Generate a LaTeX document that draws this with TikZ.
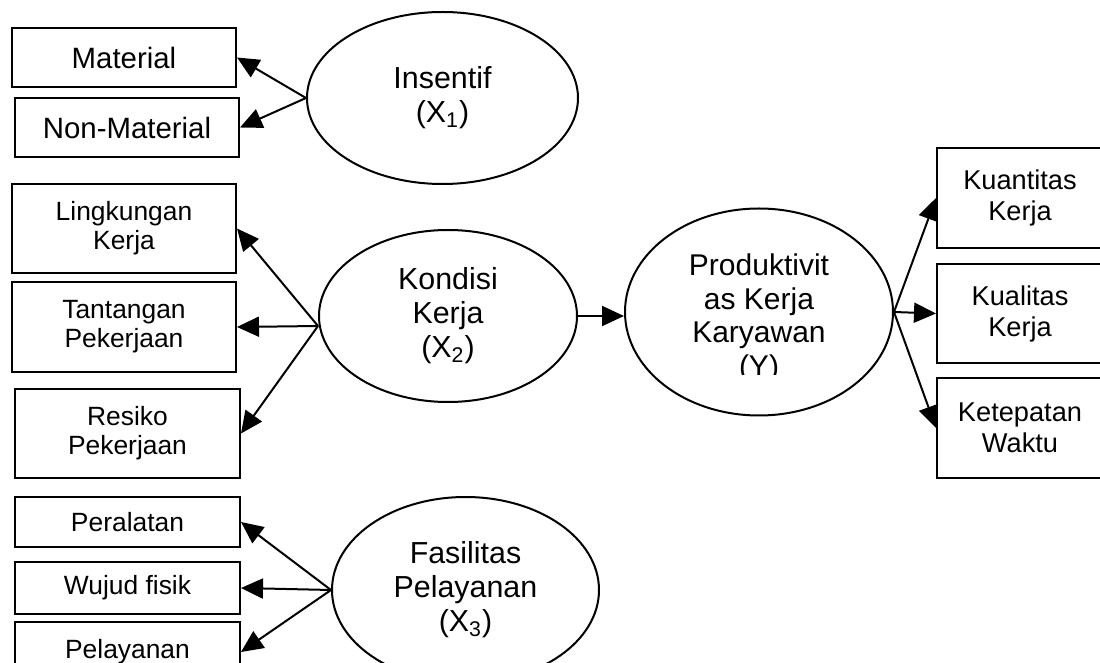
\documentclass[tikz,border=0pt]{standalone}
\usepackage{fontspec}
\setmainfont{Liberation Sans}
\usetikzlibrary{shapes.geometric,arrows.meta}

\begin{document}
\begin{tikzpicture}[x=0.5pt,y=-0.5pt,
    indikator/.style={draw,line width=1pt,rectangle,inner sep=0pt,align=center,
        font=\fontsize{13.2pt}{14.5pt}\selectfont},
    variabel/.style={draw,line width=1pt,ellipse,inner sep=0pt,align=center,
        font=\fontsize{15.2pt}{17pt}\selectfont},
    panah/.style={line width=1pt,-{Triangle[length=11pt,width=10pt]}}]

    \clip (0,0) rectangle (1100,663);

    % variabel laten
    \node[variabel,minimum width=135.5pt,minimum height=86pt] (insentif) at (442.5,98) {Insentif\\(X\textsubscript{1})};
    \node[variabel,minimum width=129pt,minimum height=86pt] (kondisi) at (448,316) {Kondisi\\Kerja\\(X\textsubscript{2})};
    \node[variabel,minimum width=133.5pt,minimum height=93pt] (fasilitas) at (465.5,590) {Fasilitas\\Pelayanan\\(X\textsubscript{3})};
    \node[variabel,minimum width=134pt,minimum height=103.5pt] (produktivitas) at (759,312) {};
    \begin{scope}
        \clip (625,200) rectangle (893,375);
        \node[align=center,font=\fontsize{15pt}{16.75pt}\selectfont] (produktivitasteks) at (759,318) {Produktivit\\as Kerja\\Karyawan\\(Y)};
    \end{scope}

    % indikator X1
    \node[indikator,minimum width=112pt,minimum height=29.5pt,font=\fontsize{14.7pt}{16pt}\selectfont] (material) at (124,57.5) {Material};
    \node[indikator,minimum width=112pt,minimum height=29.5pt,font=\fontsize{14.7pt}{16pt}\selectfont] (nonmaterial) at (127,127.5) {Non-Material};

    % indikator X2
    \node[indikator,minimum width=112pt,minimum height=44.5pt] (lingkungan) at (124,228.5) {Lingkungan\\Kerja};
    \node[indikator,minimum width=112pt,minimum height=45pt] (tantangan) at (124,327) {Tantangan\\Pekerjaan};
    \node[indikator,minimum width=112.5pt,minimum height=44.5pt] (resiko) at (127.5,433.5) {Resiko\\Pekerjaan};

    % indikator X3
    \node[indikator,minimum width=112.5pt,minimum height=25pt] (peralatan) at (127.5,522) {Peralatan};
    \node[indikator,minimum width=112.5pt,minimum height=26pt] (wujud) at (127.5,588) {Wujud fisik};
    \node[indikator,minimum width=112.5pt,minimum height=30pt] (pelayanan) at (127.5,652) {Pelayanan};

    % indikator Y
    \node[indikator,minimum width=83pt,minimum height=50pt,font=\fontsize{13.6pt}{15.5pt}\selectfont] (kuantitas) at (1020,198) {Kuantitas\\Kerja};
    \node[indikator,minimum width=83pt,minimum height=49.5pt,font=\fontsize{13.6pt}{15.5pt}\selectfont] (kualitas) at (1020,313.5) {Kualitas\\Kerja};
    \node[indikator,minimum width=83pt,minimum height=50pt,font=\fontsize{13.6pt}{15.5pt}\selectfont] (ketepatan) at (1020,428) {Ketepatan\\Waktu};

    \draw[panah] (insentif.west) -- (material.east);
    \draw[panah] (insentif.west) -- (nonmaterial.east);

    \draw[panah] ([yshift=-5pt]kondisi.west) -- (lingkungan.east);
    \draw[panah] ([yshift=-5pt]kondisi.west) -- (tantangan.east);
    \draw[panah] ([yshift=-5pt]kondisi.west) -- (resiko.east);

    \draw[panah] (fasilitas.west) -- (peralatan.east);
    \draw[panah] (fasilitas.west) -- (wujud.east);
    \draw[panah] (fasilitas.west) -- (pelayanan.east);

    \draw[panah] (kondisi.east) -- (produktivitas.west |- kondisi.east);

    \draw[panah] (produktivitas.east) -- (kuantitas.west);
    \draw[panah] (produktivitas.east) -- (kualitas.west);
    \draw[panah] (produktivitas.east) -- (ketepatan.west);

\end{tikzpicture}
\end{document}
